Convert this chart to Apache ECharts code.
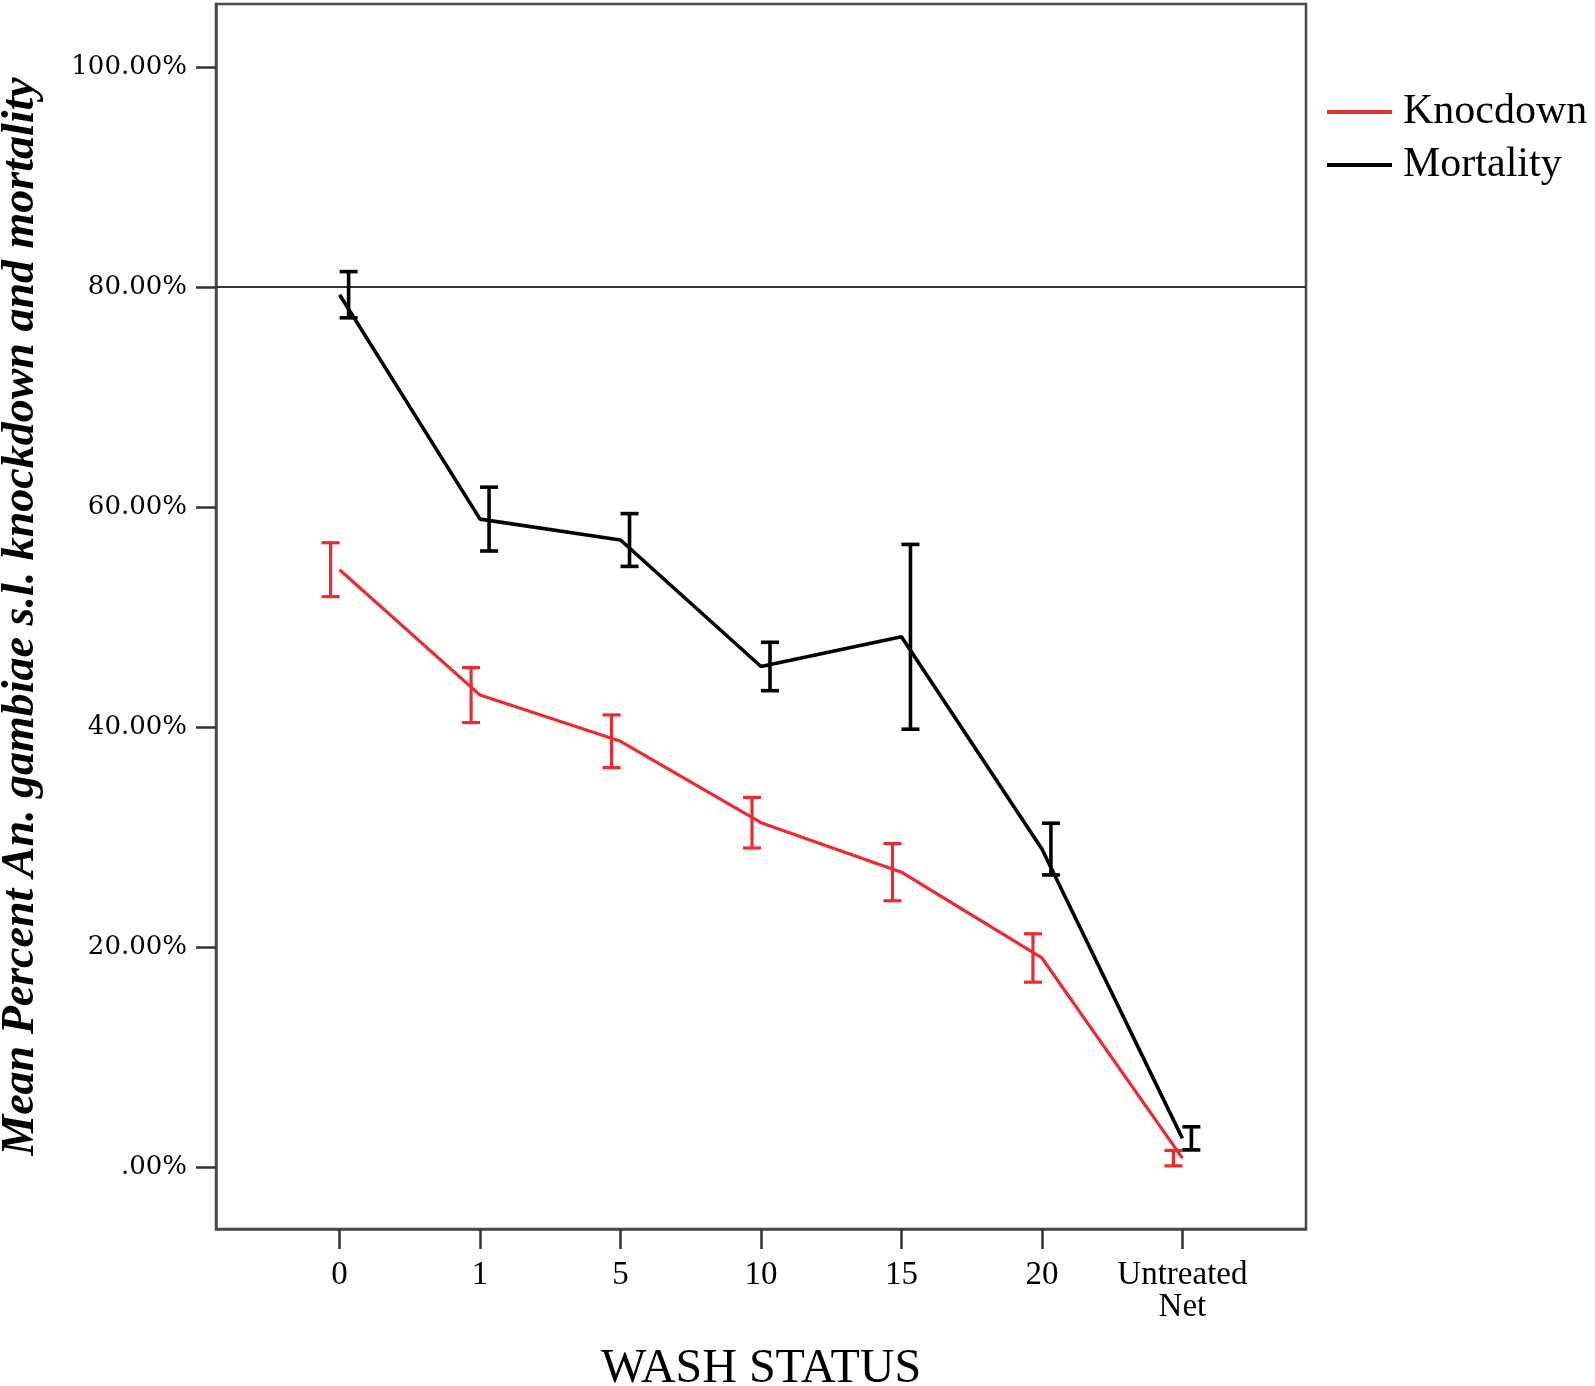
<!DOCTYPE html>
<html>
<head>
<meta charset="utf-8">
<script src="https://cdn.jsdelivr.net/npm/echarts@6/dist/echarts.min.js"></script>
<style>
html,body{margin:0;padding:0;background:#fff;}
#chart{width:1595px;height:1386px;}
</style>
</head>
<body>
<div id="chart"></div>
<script>
const categories = ['0', '1', '5', '10', '15', '20', 'Untreated\nNet'];
const knockdownMean = [54.3, 42.9, 38.7, 31.3, 26.8, 19.0, 0.8];
const knockdownErr = [2.45, 2.5, 2.4, 2.3, 2.6, 2.2, 0.7];
const mortalityMean = [79.3, 58.9, 57.0, 45.5, 48.2, 28.9, 2.6];
const mortalityErr = [2.1, 2.9, 2.4, 2.2, 8.4, 2.35, 1.05];
const yTicks = [0, 20, 40, 60, 80, 100];
const referenceLine = 80;

const RED = '#ee2a30';
const BLACK = '#000000';
const FRAME = '#4a4a4a';
const catIdx = categories.map((c, i) => i);

function errorBarSeries(name, mean, err, color, offset, width) {
  return {
    name: name,
    type: 'custom',
    z: 5,
    silent: true,
    renderItem: function (params, api) {
      const lo = api.coord([api.value(0), api.value(1)]);
      const hi = api.coord([api.value(0), api.value(2)]);
      const x = lo[0] + offset;
      const cap = 9;
      const style = { stroke: color, lineWidth: width, fill: null };
      return {
        type: 'group',
        children: [
          { type: 'line', shape: { x1: x, y1: lo[1], x2: x, y2: hi[1] }, style: style },
          { type: 'line', shape: { x1: x - cap, y1: lo[1], x2: x + cap, y2: lo[1] }, style: style },
          { type: 'line', shape: { x1: x - cap, y1: hi[1], x2: x + cap, y2: hi[1] }, style: style }
        ]
      };
    },
    data: mean.map((m, i) => [i, m - err[i], m + err[i]])
  };
}

const chart = echarts.init(document.getElementById('chart'), null, { renderer: 'canvas' });
chart.setOption({
  backgroundColor: '#ffffff',
  animation: false,
  grid: {
    left: 216, right: 289, top: 4, bottom: 157,
    outerBoundsMode: 'none',
    containLabel: false,
    show: true, borderColor: FRAME, borderWidth: 2.5, backgroundColor: 'transparent'
  },
  legend: {
    orient: 'vertical',
    left: 1322,
    top: 86,
    itemWidth: 65,
    itemHeight: 4,
    itemGap: 11,
    icon: 'rect',
    textStyle: { fontFamily: 'Liberation Serif', fontSize: 42, lineHeight: 42, color: '#000', padding: [0, 0, 0, 6] },
    data: [
      { name: 'Knocdown', itemStyle: { color: RED } },
      { name: 'Mortality', itemStyle: { color: BLACK } }
    ]
  },
  xAxis: {
    type: 'value',
    min: -0.88,
    max: 6.88,
    name: 'WASH STATUS',
    nameLocation: 'middle',
    nameGap: 116,
    nameTextStyle: { fontFamily: 'Liberation Serif', fontSize: 48, color: '#000' },
    axisLine: { show: true, onZero: false, lineStyle: { color: FRAME, width: 2.5 } },
    axisTick: { show: true, inside: false, length: 20, customValues: catIdx, lineStyle: { color: '#333', width: 2.5 } },
    axisLabel: {
      customValues: catIdx,
      margin: 30,
      fontFamily: 'Liberation Serif',
      fontSize: 33,
      lineHeight: 32,
      color: '#000',
      formatter: v => categories[Math.round(v)]
    },
    splitLine: { show: false }
  },
  yAxis: {
    type: 'value',
    min: -5.64,
    max: 105.73,
    name: 'Mean Percent An. gambiae s.l. knockdown and mortality',
    nameLocation: 'middle',
    nameGap: 172,
    nameRotate: 90,
    nameTextStyle: { fontFamily: 'Liberation Serif', fontStyle: 'italic', fontWeight: 'bold', fontSize: 46, color: '#000' },
    axisLine: { show: true, onZero: false, lineStyle: { color: FRAME, width: 2.5 } },
    axisTick: { show: true, inside: false, length: 20, customValues: yTicks, lineStyle: { color: '#333', width: 2.5 } },
    axisLabel: {
      customValues: yTicks,
      margin: 29,
      fontFamily: 'DejaVu Serif',
      fontSize: 26,
      color: '#000',
      formatter: v => (v === 0 ? '.00%' : v.toFixed(2) + '%')
    },
    splitLine: { show: false }
  },
  series: [
    {
      name: 'Knocdown',
      type: 'line',
      symbol: 'none',
      z: 3,
      lineStyle: { color: RED, width: 3.2 },
      itemStyle: { color: RED },
      data: knockdownMean.map((v, i) => [i, v])
    },
    {
      name: 'Mortality',
      type: 'line',
      symbol: 'none',
      z: 3,
      lineStyle: { color: BLACK, width: 3.6 },
      itemStyle: { color: BLACK },
      data: mortalityMean.map((v, i) => [i, v]),
      markLine: {
        silent: true,
        symbol: ['none', 'none'],
        label: { show: false },
        lineStyle: { color: '#333', width: 2.2, type: 'solid' },
        data: [{ yAxis: referenceLine }]
      }
    },
    errorBarSeries('KnocdownErr', knockdownMean, knockdownErr, RED, -9, 3.2),
    errorBarSeries('MortalityErr', mortalityMean, mortalityErr, BLACK, 9, 3.6)
  ]
});
</script>
</body>
</html>
